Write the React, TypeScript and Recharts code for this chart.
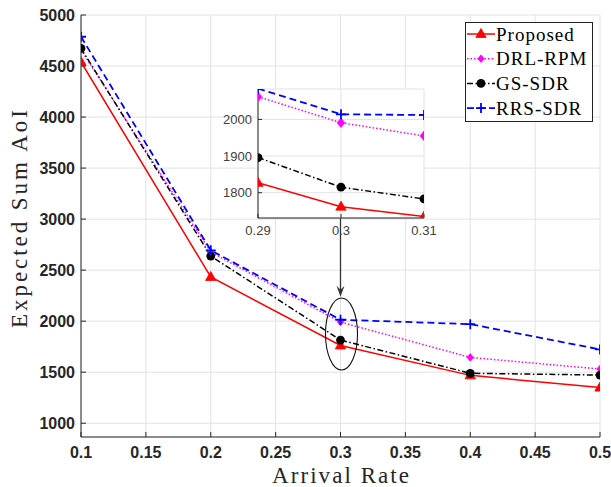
import { LineChart, Line, XAxis, YAxis, CartesianGrid, ReferenceLine, ReferenceDot } from 'recharts';

// values (arrival rate vs expected sum AoI)
const arrivalRates = [0.1, 0.2, 0.3, 0.4, 0.5];
const proposedAoI = [4540, 2433, 1762, 1469, 1349];
const drlRpmAoI = [4660, 2677, 1991, 1645, 1531];
const gsSdrAoI = [4673, 2638, 1815, 1489, 1472];
const rrsSdrAoI = [4787, 2694, 2014, 1971, 1723];

// zoomed window around 0.3
const zoomRates = [0.29, 0.3, 0.31];
const zoomProposed = [1827, 1762, 1735];
const zoomDrlRpm = [2062, 1991, 1955];
const zoomGsSdr = [1896, 1815, 1783];
const zoomRrsSdr = [2084, 2014, 2012];

const xTicks = [0.1, 0.15, 0.2, 0.25, 0.3, 0.35, 0.4, 0.45, 0.5];
const yTicks = [1000, 1500, 2000, 2500, 3000, 3500, 4000, 4500, 5000];
const zoomXTicks = [0.29, 0.3, 0.31];
const zoomYTicks = [1800, 1900, 2000];

type MarkerKind = 'triangle' | 'diamond' | 'circle' | 'plus';

const series: { key: string; name: string; color: string; dash?: string; width: number; marker: MarkerKind }[] = [
  { key: 'proposed', name: 'Proposed', color: '#ff0000', width: 1.5, marker: 'triangle' },
  { key: 'drl', name: 'DRL-RPM', color: '#ff00ff', dash: '1.5 2', width: 1.5, marker: 'diamond' },
  { key: 'gs', name: 'GS-SDR', color: '#000000', dash: '6 2.5 1.5 2.5', width: 1.5, marker: 'circle' },
  { key: 'rrs', name: 'RRS-SDR', color: '#0000ff', dash: '7 4', width: 1.8, marker: 'plus' },
];

const mainData = arrivalRates.map((r, i) => ({
  rate: r,
  proposed: proposedAoI[i],
  drl: drlRpmAoI[i],
  gs: gsSdrAoI[i],
  rrs: rrsSdrAoI[i],
}));

const zoomData = zoomRates.map((r, i) => ({
  rate: r,
  proposed: zoomProposed[i],
  drl: zoomDrlRpm[i],
  gs: zoomGsSdr[i],
  rrs: zoomRrsSdr[i],
}));

const AXIS = '#262626';
const GRID = '#e2e2e2';

const Marker = ({ kind, x, y, color, big }: { kind: MarkerKind; x: number; y: number; color: string; big?: boolean }) => {
  if (x == null || y == null) return null;
  switch (kind) {
    case 'triangle':
      return <polygon points={`${x},${y - 5.5} ${x - 5.2},${y + 3.5} ${x + 5.2},${y + 3.5}`} fill={color} stroke={color} strokeWidth={0.8} />;
    case 'diamond': {
      const w = big ? 3.8 : 3.2;
      const h = big ? 4.8 : 3.8;
      return <polygon points={`${x},${y - h} ${x - w},${y} ${x},${y + h} ${x + w},${y}`} fill={color} stroke={color} strokeWidth={0.8} />;
    }
    case 'circle':
      return <circle cx={x} cy={y} r={4.4} fill={color} />;
    default:
      return <path d={`M${x - 5},${y}H${x + 5}M${x},${y - 5}V${y + 5}`} stroke={color} strokeWidth={1.8} fill="none" />;
  }
};

const tickStyle = { fill: AXIS, fontSize: 16, fontWeight: 700, fontFamily: 'Liberation Sans, Arial, sans-serif' };
const zoomTickStyle = { fill: '#404040', fontSize: 13, fontFamily: 'Liberation Sans, Arial, sans-serif' };

const XTitle = (props: any) => {
  const vb = props.viewBox;
  return (
    <text x={vb.x + vb.width / 2} y={483} textAnchor="middle" fontFamily="Liberation Serif, Times New Roman, serif" fontSize={23} fill={AXIS} textLength={137} lengthAdjust="spacing">
      Arrival Rate
    </text>
  );
};

const YTitle = () => (
  <text x={27} y={219} transform="rotate(-90, 27, 219)" textAnchor="middle" fontFamily="Liberation Serif, Times New Roman, serif" fontSize={23} fill={AXIS} textLength={218} lengthAdjust="spacing">
    Expected Sum AoI
  </text>
);

const Arrow = (p: any) => {
  const { x1, y1, x2, y2 } = p;
  return (
    <g>
      <line x1={x1} y1={y1} x2={x2} y2={y2 - 6} stroke="#333" strokeWidth={1.3} />
      <path d={`M${x2},${y2} L${x2 - 4},${y2 - 11} L${x2},${y2 - 7} L${x2 + 4},${y2 - 11} Z`} fill="#333" />
    </g>
  );
};

const Legend = () => (
  <svg width={129} height={101} style={{ position: 'absolute', left: 465, top: 22 }}>
    <rect x={0.5} y={0.5} width={127} height={99} fill="#fff" stroke="#222" strokeWidth={1} />
    {series.map((s, i) => {
      const cy = 12 + i * 24.7;
      return (
        <g key={s.key}>
          <line x1={2} y1={cy} x2={30} y2={cy} stroke={s.color} strokeWidth={s.width} strokeDasharray={s.dash} />
          <Marker kind={s.marker} x={16} y={cy} color={s.color} />
          <text x={31} y={cy + 6.5} fontFamily="Liberation Serif, Times New Roman, serif" fontSize={19} letterSpacing={1} fill="#000">
            {s.name}
          </text>
        </g>
      );
    })}
  </svg>
);

const Inset = () => (
  <div style={{ position: 'absolute', left: 218, top: 83 }}>
    <LineChart width={226} height={160} data={zoomData} margin={{ top: 6, right: 20, bottom: 0, left: 0 }}>
      <CartesianGrid stroke={GRID} fill="#ffffff" fillOpacity={1} />
      <XAxis dataKey="rate" type="number" domain={[0.29, 0.31]} allowDataOverflow ticks={zoomXTicks} interval={0}
        height={25} tickSize={-4} tickMargin={12} stroke={AXIS} tick={zoomTickStyle} />
      <XAxis xAxisId="top" orientation="top" type="number" domain={[0.29, 0.31]} allowDataOverflow ticks={zoomXTicks}
        height={0} tickSize={-4} tick={false} stroke={AXIS} />
      <YAxis type="number" domain={[1731, 2083]} allowDataOverflow ticks={zoomYTicks} interval={0}
        width={40} tickSize={-4} tickMargin={10} stroke={AXIS} tick={zoomTickStyle} />
      <YAxis yAxisId="right" orientation="right" type="number" domain={[1731, 2083]} allowDataOverflow ticks={zoomYTicks}
        width={0} tickSize={-4} tick={false} stroke={AXIS} />
      {series.map((s) => (
        <Line key={s.key} dataKey={s.key} stroke={s.color} strokeWidth={s.width} strokeDasharray={s.dash}
          isAnimationActive={false}
          dot={(p: any) => <g key={`${s.key}-z-${p.index}`}><Marker kind={s.marker} x={p.cx} y={p.cy} color={s.color} big /></g>}
          activeDot={false} />
      ))}
    </LineChart>
  </div>
);

export default function App() {
  return (
    <div style={{ position: 'absolute', left: 0, top: 0, width: 611, height: 487, background: '#fff' }}>
      <LineChart width={611} height={487} data={mainData} margin={{ top: 15, right: 11, bottom: 0, left: 0 }}>
        <CartesianGrid stroke={GRID} />
        <XAxis dataKey="rate" type="number" domain={[0.1, 0.5]} allowDataOverflow ticks={xTicks} interval={0}
          height={50} tickSize={-5} tickMargin={15} stroke={AXIS} tick={tickStyle} label={<XTitle />} />
        <XAxis xAxisId="top" orientation="top" type="number" domain={[0.1, 0.5]} allowDataOverflow ticks={xTicks}
          height={0} tickSize={-5} tick={false} stroke={AXIS} />
        <YAxis type="number" domain={[865, 5000]} allowDataOverflow ticks={yTicks} interval={0}
          width={81} tickSize={-5} tickMargin={11} stroke={AXIS} tick={tickStyle} label={<YTitle />} />
        <YAxis yAxisId="right" orientation="right" type="number" domain={[865, 5000]} allowDataOverflow ticks={yTicks}
          width={0} tickSize={-5} tick={false} stroke={AXIS} />
        {series.map((s) => (
          <Line key={s.key} dataKey={s.key} stroke={s.color} strokeWidth={s.width} strokeDasharray={s.dash}
            isAnimationActive={false}
            dot={(p: any) => <g key={`${s.key}-${p.index}`}><Marker kind={s.marker} x={p.cx} y={p.cy} color={s.color} /></g>}
            activeDot={false} />
        ))}
        <ReferenceLine segment={[{ x: 0.3, y: 3080 }, { x: 0.3, y: 2240 }]} ifOverflow="visible" shape={Arrow} />
        <ReferenceDot x={0.3} y={1874} ifOverflow="visible"
          shape={(p: any) => <ellipse cx={p.cx + 1} cy={p.cy} rx={16} ry={36} fill="none" stroke="#111" strokeWidth={1.1} />} />
      </LineChart>
      <Inset />
      <Legend />
    </div>
  );
}
